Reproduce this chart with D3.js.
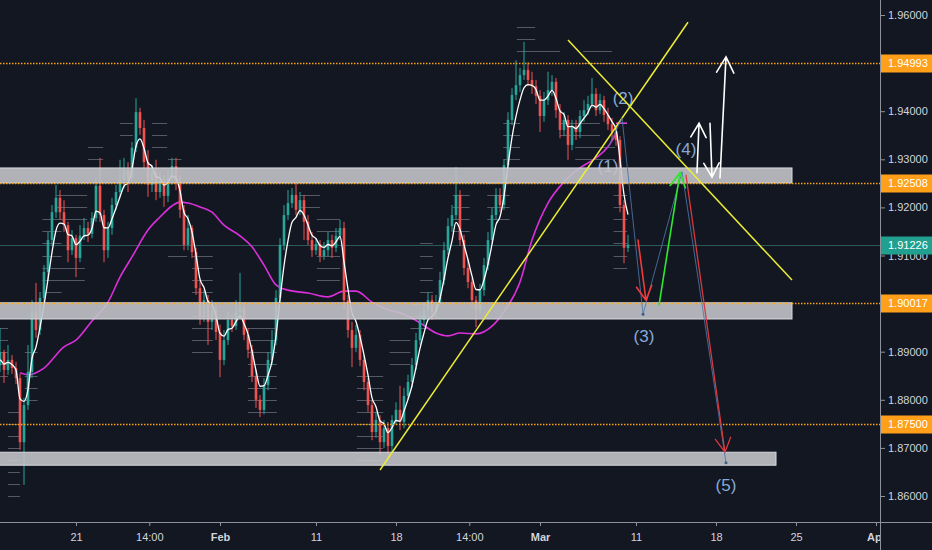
<!DOCTYPE html>
<html><head><meta charset="utf-8">
<script src="https://cdn.jsdelivr.net/npm/d3@7"></script>
<style>
html,body{margin:0;padding:0;background:#131722;}
svg{display:block;}
text{font-family:"Liberation Sans",Arial,sans-serif;}
</style></head><body>
<svg id="c" width="932" height="550"></svg>
<script>
// ---------- DATA ----------
const candleStep = 0.25;          // trading days per candle
const firstOpen = 1.8883;
const closes = [1.8872,1.8899,1.8862,1.8883,1.8866,1.8845,1.8712,1.8789,1.8858,1.8983,
1.8945,1.9012,1.9066,1.9132,1.9190,1.9220,1.9190,1.9163,1.9111,1.9136,
1.9095,1.9141,1.9157,1.9145,1.9178,1.9245,1.9184,1.9111,1.9157,1.9205,
1.9232,1.9257,1.9278,1.9261,1.9324,1.9398,1.9365,1.9294,1.9247,1.9274,
1.9232,1.9257,1.9224,1.9261,1.9286,1.9253,1.9195,1.9122,1.9157,1.9107,
1.9032,1.8974,1.9007,1.8962,1.8987,1.8941,1.8883,1.8924,1.8966,1.8953,
1.8983,1.8991,1.8935,1.8904,1.8849,1.8800,1.8779,1.8831,1.8883,1.8924,
1.9012,1.9122,1.9184,1.9209,1.9226,1.9195,1.9215,1.9170,1.9132,1.9111,
1.9124,1.9099,1.9111,1.9132,1.9116,1.9141,1.9157,1.9007,1.8945,1.8908,
1.8935,1.8883,1.8837,1.8789,1.8733,1.8758,1.8712,1.8741,1.8704,1.8758,
1.8779,1.8754,1.8808,1.8837,1.8872,1.8924,1.8966,1.8987,1.9007,1.8983,
1.9003,1.9049,1.9111,1.9161,1.9184,1.9226,1.9132,1.9074,1.9045,1.9007,
1.8987,1.9028,1.9080,1.9132,1.9184,1.9226,1.9205,1.9288,1.9382,1.9434,
1.9454,1.9475,1.9486,1.9465,1.9452,1.9432,1.9390,1.9423,1.9444,1.9461,
1.9402,1.9361,1.9382,1.9330,1.9369,1.9357,1.9390,1.9402,1.9415,1.9436,
1.9402,1.9423,1.9392,1.9373,1.9357,1.9340,1.9205,1.9116,1.91226];
const highs = [1.8904,1.8949,1.8904,1.8914,1.8893,1.8879,1.8854,1.8804,1.8914,1.9007,
1.9043,1.9024,1.9080,1.9149,1.9205,1.9247,1.9236,1.9215,1.9170,1.9153,
1.9143,1.9163,1.9178,1.9170,1.9190,1.9261,1.9303,1.9195,1.9170,1.9220,
1.9247,1.9299,1.9303,1.9294,1.9336,1.9427,1.9407,1.9382,1.9319,1.9288,
1.9299,1.9274,1.9267,1.9278,1.9303,1.9303,1.9267,1.9205,1.9184,1.9163,
1.9116,1.9049,1.9028,1.9018,1.9007,1.8997,1.8956,1.8945,1.8983,1.8978,
1.9007,1.9064,1.9003,1.8949,1.8914,1.8862,1.8810,1.8845,1.8899,1.8945,
1.9028,1.9136,1.9205,1.9236,1.9240,1.9251,1.9232,1.9226,1.9184,1.9149,
1.9136,1.9132,1.9128,1.9149,1.9143,1.9157,1.9174,1.9170,1.9018,1.8962,
1.8956,1.8945,1.8893,1.8845,1.8800,1.8775,1.8768,1.8758,1.8754,1.8768,
1.8795,1.8829,1.8825,1.8852,1.8887,1.8939,1.8983,1.9003,1.9024,1.9018,
1.9018,1.9066,1.9128,1.9178,1.9205,1.9284,1.9236,1.9143,1.9091,1.9053,
1.9016,1.9041,1.9095,1.9149,1.9199,1.9240,1.9240,1.9299,1.9398,1.9448,
1.9506,1.9490,1.9544,1.9502,1.9482,1.9465,1.9444,1.9440,1.9482,1.9475,
1.9469,1.9415,1.9398,1.9392,1.9382,1.9382,1.9402,1.9423,1.9432,1.9469,
1.9448,1.9436,1.9432,1.9407,1.9386,1.9369,1.9348,1.9215,1.9143];
const lows = [1.8858,1.8858,1.8835,1.8852,1.8854,1.8833,1.8696,1.8623,1.8779,1.8845,
1.8929,1.8935,1.8997,1.9049,1.9120,1.9178,1.9174,1.9149,1.9086,1.9101,
1.9055,1.9086,1.9132,1.9128,1.9136,1.9170,1.9170,1.9086,1.9095,1.9143,
1.9195,1.9220,1.9240,1.9232,1.9253,1.9315,1.9351,1.9278,1.9222,1.9232,
1.9215,1.9220,1.9201,1.9211,1.9247,1.9236,1.9178,1.9111,1.9111,1.9095,
1.9018,1.8956,1.8962,1.8914,1.8945,1.8924,1.8847,1.8872,1.8914,1.8941,
1.8945,1.8970,1.8924,1.8887,1.8837,1.8783,1.8764,1.8770,1.8820,1.8872,
1.8914,1.9003,1.9111,1.9174,1.9199,1.9184,1.9184,1.9132,1.9122,1.9097,
1.9101,1.9086,1.9091,1.9099,1.9095,1.9107,1.9132,1.8987,1.8929,1.8868,
1.8899,1.8870,1.8820,1.8775,1.8716,1.8721,1.8685,1.8700,1.8679,1.8691,
1.8748,1.8737,1.8741,1.8800,1.8825,1.8862,1.8914,1.8953,1.8974,1.8966,
1.8970,1.8995,1.9039,1.9101,1.9149,1.9174,1.9120,1.9059,1.9032,1.8991,
1.8951,1.8978,1.9016,1.9070,1.9124,1.9174,1.9190,1.9195,1.9278,1.9371,
1.9423,1.9440,1.9465,1.9452,1.9436,1.9415,1.9357,1.9378,1.9413,1.9432,
1.9386,1.9344,1.9348,1.9299,1.9319,1.9340,1.9344,1.9378,1.9392,1.9407,
1.9390,1.9394,1.9378,1.9361,1.9340,1.9328,1.9190,1.9084,1.9107];

// slow moving average (magenta)
const maDays = [1.5,2,3,4.25,5,6,7,7.75,8.5,9.5,10.25,11,11.5,12,12.75,13.5,14.25,15.25,16,16.75,17.5,18.25,19.5,20.75,21.75,22.5,23.5,24.5,25.5,26.5,27.5,28.25,29,30,31,31.75,32.75,33.5,34.5,35.5,36.5,37.5,38.25,38.75];
const maValues = [1.8856,1.8852,1.8866,1.8910,1.8924,1.8964,1.9003,1.9055,1.9097,1.9153,1.9180,1.9203,1.9211,1.9209,1.9201,1.9190,1.9163,1.9141,1.9118,1.9080,1.9039,1.9028,1.9022,1.9014,1.9026,1.9026,1.9003,1.8987,1.8978,1.8960,1.8939,1.8933,1.8939,1.8937,1.8953,1.8983,1.9045,1.9132,1.9209,1.9253,1.9282,1.9303,1.9326,1.9353];

// axis ticks
const xTickDays = [5,9.58,14,20,25,29.58,34,40,45,50,55];
const xTickLabels = ["21","14:00","Feb","11","18","14:00","Mar","11","18","25","Apr"];
const xTickBold = ["Feb","Mar","Apr"];
const yTicks = [1.86,1.87,1.88,1.89,1.90,1.91,1.92,1.93,1.94,1.95,1.96];

// horizontal levels & zones
const levelPrices = [1.94993,1.92508,1.90017,1.87500];
const lastPrice = 1.91226;
const zoneFrom = [-1,-1,-1];
const zoneTo = [49.75,49.75,48.75];
const zoneTop = [1.9282,1.90017,1.8691];
const zoneBottom = [1.92508,1.8968,1.8664];

// round-number markers [fromDay, toDay, levels]
const markerGroups = [
 [0.25,0.75,[1.895,1.8925,1.89,1.8875,1.885]],
 [0.75,1.5,[1.8775,1.875,1.8725,1.87,1.8675,1.865,1.8625,1.86]],
 [1.8,2.6,[1.89,1.885,1.8825,1.88]],
 [2.9,4.1,[1.9175,1.915,1.9125,1.91,1.9075,1.905,1.9025]],
 [3.8,5.7,[1.9225,1.92,1.9175]],
 [3.75,5.55,[1.9075,1.905]],
 [5.75,6.7,[1.9325,1.93]],
 [7.75,8.55,[1.9375,1.935]],
 [9.75,10.7,[1.9375,1.935,1.9325]],
 [10.75,11.6,[1.93]],
 [10.75,11.95,[1.91]],
 [12.25,13.55,[1.91,1.9075,1.905,1.9025,1.8975,1.895,1.8925,1.89]],
 [15.75,17.55,[1.895,1.8925,1.89,1.8875,1.885,1.8825,1.88,1.8775]],
 [19,20.25,[1.9225,1.92]],
 [20.05,21.5,[1.9175,1.915,1.91,1.9075,1.905]],
 [22.55,24.2,[1.885,1.8825,1.88,1.8775,1.875,1.8725,1.87,1.8675]],
 [24.6,25.9,[1.8925,1.89,1.8875]],
 [25.9,27.1,[1.9,1.8975,1.895]],
 [26.5,27.3,[1.9125,1.91,1.9075,1.905,1.9025]],
 [28.55,29.6,[1.9225,1.92,1.9175,1.915]],
 [30.7,32.1,[1.925,1.9225,1.92,1.9175]],
 [31.7,32.75,[1.9375,1.935,1.9325,1.93]],
 [32.55,33.7,[1.9575,1.955,1.9525]],
 [33.55,35.25,[1.9525]],
 [35.25,37.75,[1.9375,1.935]],
 [36.2,38.7,[1.9325,1.93]],
 [36.7,38.5,[1.9525,1.95]],
 [38.6,39.45,[1.925,1.9225,1.92,1.9175,1.915,1.9125,1.91,1.9075]]
];

// drawings: trend lines, arrows, wave path, wave labels
const trendFrom = [[24.0,1.8654],[35.75,1.9548]];
const trendTo   = [[43.25,1.9585],[49.75,1.9049]];
const arrowFrom = [[43.81,1.9272],[44.625,1.9375],[45.25,1.9261],[40.125,1.9132],[43.125,1.9267],[41.44,1.8997]];
const arrowTo   = [[43.94,1.9375],[44.75,1.9263],[45.625,1.9513],[40.625,1.9007],[45.56,1.8691],[42.75,1.9272]];
const arrowKind = ["white","white","whiteBig","red","red2","green"];
const wavePath = [[38.25,1.9324],[39.125,1.9386],[40.44,1.8978],[42.875,1.9274],[45.625,1.8669]];
const waveLabels = ["(1)","(2)","(3)","(4)","(5)"];
const waveLabelDays = [38.25,39.19,40.5,43.125,45.625];
const waveLabelPrices = [1.9274,1.9415,1.8920,1.9309,1.8610];
const maTick = [[38.75,1.9375],[39.44,1.9375]];

// ---------- STYLE ----------
const UP="#26a69a", DN="#ef5350";
const ARROW = {white:{c:"#ffffff",w:1.6,h:16}, whiteBig:{c:"#ffffff",w:1.6,h:18},
  red:{c:"#f23a3a",w:1.6,h:16}, red2:{c:"#d9383e",w:1.3,h:16}, green:{c:"#2ee82e",w:1.6,h:16}};

// ---------- CHART ----------
const W=932,H=550,plotR=880,plotB=522;
const svg=d3.select("#c");
const x=d3.scaleLinear().domain([0,55]).range([-4,876]);
const y=d3.scaleLinear().domain([1.86,1.96]).range([496,15]);
const px=p=>[x(p[0]),y(p[1])];

svg.append("rect").attr("width",W).attr("height",H).attr("fill","#131722");
const defs=svg.append("defs");
defs.append("clipPath").attr("id","plot").append("rect").attr("width",plotR).attr("height",plotB);
defs.append("clipPath").attr("id","xax").append("rect").attr("width",plotR).attr("height",H);
const plot=svg.append("g").attr("clip-path","url(#plot)");

// markers
const mk=[];
markerGroups.forEach(([a,b,lv])=>lv.forEach(p=>mk.push({a,b,p})));
plot.append("g").selectAll("line").data(mk).join("line")
 .attr("x1",d=>x(d.a)).attr("x2",d=>x(d.b))
 .attr("y1",d=>Math.round(y(d.p))+0.5).attr("y2",d=>Math.round(y(d.p))+0.5)
 .attr("stroke","#555965").attr("stroke-width",1);

// current price line (behind candles)
plot.append("line").attr("x1",0).attr("x2",plotR)
 .attr("y1",Math.round(y(lastPrice))+0.5).attr("y2",Math.round(y(lastPrice))+0.5)
 .attr("stroke","#2a5a5a").attr("stroke-width",1);

// wave labels (behind candles)
plot.append("g").selectAll("text").data(waveLabels).join("text")
 .attr("x",(d,i)=>x(waveLabelDays[i])).attr("y",(d,i)=>y(waveLabelPrices[i]))
 .attr("text-anchor","middle").attr("font-size",17).attr("fill","#86aad8").text(d=>d);

// slow MA
plot.append("path").datum(maDays.map((d,i)=>[d,maValues[i]]))
 .attr("d",d3.line().x(d=>x(d[0])).y(d=>y(d[1])).curve(d3.curveMonotoneX))
 .attr("fill","none").attr("stroke","#dc2fdc").attr("stroke-width",1.6);
plot.append("line").attr("x1",px(maTick[0])[0]).attr("y1",px(maTick[0])[1])
 .attr("x2",px(maTick[1])[0]).attr("y2",px(maTick[1])[1]).attr("stroke","#e040e0").attr("stroke-width",1.6);

// candles
const candles=closes.map((c,i)=>({d:i*candleStep,o:i?closes[i-1]:firstOpen,c,h:highs[i],l:lows[i]}));
const cg=plot.append("g");
cg.selectAll("line").data(candles).join("line")
 .attr("x1",d=>x(d.d)).attr("x2",d=>x(d.d)).attr("y1",d=>y(d.h)).attr("y2",d=>y(d.l))
 .attr("stroke",d=>d.c>=d.o?UP:DN).attr("stroke-width",1);
cg.selectAll("rect").data(candles).join("rect")
 .attr("x",d=>x(d.d)-1.3).attr("width",2.6)
 .attr("y",d=>y(Math.max(d.o,d.c))).attr("height",d=>Math.max(1,Math.abs(y(d.o)-y(d.c))))
 .attr("fill",d=>d.c>=d.o?UP:DN);

// fast EMA (white)
let e;
const ema=closes.map((c,i)=>(e=i?e+0.4*(c-e):c));
plot.append("path").datum(ema)
 .attr("d",d3.line().x((v,i)=>x(i*candleStep)).y(v=>y(v)).curve(d3.curveMonotoneX))
 .attr("fill","none").attr("stroke","#ffffff").attr("stroke-width",1.3);

// zones
plot.append("g").selectAll("rect").data(zoneTop).join("rect")
 .attr("x",(d,i)=>x(zoneFrom[i])).attr("width",(d,i)=>x(zoneTo[i])-x(zoneFrom[i]))
 .attr("y",d=>y(d)).attr("height",(d,i)=>y(zoneBottom[i])-y(d))
 .attr("fill","#c2c3c8").attr("fill-opacity",0.9).attr("stroke","#d8d9de").attr("stroke-width",1);

// levels
plot.append("g").selectAll("line").data(levelPrices).join("line")
 .attr("x1",0).attr("x2",plotR).attr("y1",d=>Math.round(y(d))+0.5).attr("y2",d=>Math.round(y(d))+0.5)
 .attr("stroke","#f7a21b").attr("stroke-width",1.3).attr("stroke-dasharray","1.5 1.5");

// trend lines
plot.append("g").selectAll("line").data(trendFrom).join("line")
 .attr("x1",d=>px(d)[0]).attr("y1",d=>px(d)[1])
 .attr("x2",(d,i)=>px(trendTo[i])[0]).attr("y2",(d,i)=>px(trendTo[i])[1])
 .attr("stroke","#eded36").attr("stroke-width",1.5);

// wave path
plot.append("path").datum(wavePath)
 .attr("d",d3.line().x(d=>x(d[0])).y(d=>y(d[1])))
 .attr("fill","none").attr("stroke","#4f76a8").attr("stroke-width",1).attr("stroke-opacity",0.85);
plot.append("g").selectAll("circle").data([wavePath[2],wavePath[4]]).join("circle")
 .attr("cx",d=>x(d[0])).attr("cy",d=>y(d[1])).attr("r",1.5).attr("fill","#3b5f8c");

// arrows
const ag=plot.append("g").attr("fill","none").attr("stroke-linecap","round");
arrowFrom.forEach((f,i)=>{
  const s=ARROW[arrowKind[i]];
  const [x1,y1]=px(f),[x2,y2]=px(arrowTo[i]);
  const a=Math.atan2(y2-y1,x2-x1), sp=0.5;
  const w1=[x2-s.h*Math.cos(a-sp),y2-s.h*Math.sin(a-sp)];
  const w2=[x2-s.h*Math.cos(a+sp),y2-s.h*Math.sin(a+sp)];
  ag.append("path").attr("d",`M${x1},${y1}L${x2},${y2}M${w1}L${x2},${y2}L${w2}`)
    .attr("stroke",s.c).attr("stroke-width",s.w);
});

// axes
const ax=svg.append("g").attr("transform",`translate(${plotR},0)`)
 .call(d3.axisRight(y).tickValues(yTicks).tickFormat(d3.format(".5f")).tickSize(5).tickPadding(3));
ax.select(".domain").remove();
ax.selectAll(".tick line").attr("stroke","#8f929b");
ax.selectAll(".tick text").attr("fill","#d1d4dc").attr("font-size",11).attr("font-family","Liberation Sans, Arial, sans-serif");

const bx=svg.append("g").attr("clip-path","url(#xax)").append("g").attr("transform",`translate(0,${plotB})`)
 .call(d3.axisBottom(x).tickValues(xTickDays).tickFormat((d,i)=>xTickLabels[i]).tickSize(4));
bx.select(".domain").remove();
bx.selectAll(".tick line").attr("stroke","#8f929b");
bx.selectAll(".tick text").attr("fill","#d1d4dc").attr("font-size",11).attr("y",11)
 .attr("font-family","Liberation Sans, Arial, sans-serif")
 .attr("font-weight",(d,i)=>xTickBold.includes(xTickLabels[i])?"bold":"normal");

svg.append("line").attr("x1",plotR+0.5).attr("x2",plotR+0.5).attr("y1",0).attr("y2",H).attr("stroke","#8f929b");
svg.append("line").attr("x1",0).attr("x2",W).attr("y1",plotB+0.5).attr("y2",plotB+0.5).attr("stroke","#8f929b");

// price labels
const tags=levelPrices.map(p=>({p,bg:"#ff9f1a"})).concat([{p:lastPrice,bg:"#22a08f"}]);
const tg=svg.append("g").selectAll("g").data(tags).join("g")
 .attr("transform",d=>`translate(${plotR+1},${Math.round(y(d.p))+0.5})`);
tg.append("rect").attr("x",0).attr("y",-9).attr("width",W-plotR).attr("height",18).attr("fill",d=>d.bg);
tg.append("text").attr("x",7).attr("dy","0.35em").attr("font-size",11).attr("fill","#ffffff")
 .text(d=>d3.format(".5f")(d.p));
</script>
</body></html>
